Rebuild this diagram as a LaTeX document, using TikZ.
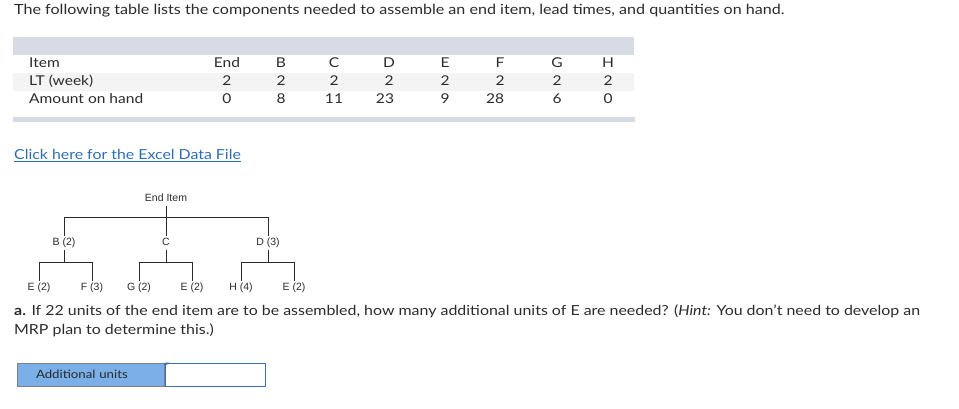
\documentclass[tikz,border=0pt]{standalone}
\usepackage{fontspec}
\setmainfont[FakeStretch=1.15]{Lato}
\newfontfamily\treefont{Liberation Sans}
\usepackage{tikz}

\definecolor{txt}{HTML}{2B2B2B}
\definecolor{bar}{HTML}{D6DBE4}
\definecolor{band}{HTML}{F4F4F4}
\definecolor{link}{HTML}{2E6DB4}
\definecolor{btnfill}{HTML}{7AAFE8}
\definecolor{btnline}{HTML}{7F7F7F}
\definecolor{boxline}{HTML}{3D6FB6}

\tikzset{
  txt/.style={anchor=base west, inner sep=0pt, text=txt, font=\fontsize{14}{18}\selectfont},
  cell/.style={anchor=base, inner sep=0pt, text=txt, font=\fontsize{13.5}{16}\selectfont},
  part/.style={anchor=base, inner xsep=0pt, inner ysep=1.5pt, text height=8pt, text depth=2.5pt, text=txt, font=\treefont\fontsize{10.5}{12}\selectfont},
  link/.style={draw=txt, line width=0.8pt}
}

\begin{document}
\begin{tikzpicture}[x=1pt,y=-1pt]
        \useasboundingbox (0,0) rectangle (959,409);

        \node[txt] (title) at (14,15) {The following table lists the components needed to assemble an end item, lead times, and quantities on hand.};

        \fill[bar] (13,37) rectangle (634,55);
        \fill[band] (13,73) rectangle (634,91);
        \fill[bar] (13,117) rectangle (635,122);

        \node[cell, anchor=base west] (item) at (29,68) {Item};
        \node[cell, anchor=base west] (lt) at (29,86) {LT (week)};
        \node[cell, anchor=base west] (onhand) at (29,104) {Amount on hand};

        \node[cell] (hEnd) at (227,68) {End};
        \node[cell] (hB) at (281,68) {B};
        \node[cell] (hC) at (334,68) {C};
        \node[cell] (hD) at (389,68) {D};
        \node[cell] (hE) at (445,68) {E};
        \node[cell] (hF) at (500,68) {F};
        \node[cell] (hG) at (557,68) {G};
        \node[cell] (hH) at (608,68) {H};

        \node[cell] (ltEnd) at (227,86) {2};
        \node[cell] (ltB) at (281,86) {2};
        \node[cell] (ltC) at (334,86) {2};
        \node[cell] (ltD) at (389,86) {2};
        \node[cell] (ltE) at (445,86) {2};
        \node[cell] (ltF) at (500,86) {2};
        \node[cell] (ltG) at (557,86) {2};
        \node[cell] (ltH) at (608,86) {2};

        \node[cell] (ohEnd) at (227,104) {0};
        \node[cell] (ohB) at (281,104) {8};
        \node[cell] (ohC) at (334,104) {11};
        \node[cell] (ohD) at (385,104) {23};
        \node[cell] (ohE) at (445,104) {9};
        \node[cell] (ohF) at (495,104) {28};
        \node[cell] (ohG) at (557,104) {6};
        \node[cell] (ohH) at (608,104) {0};

        \node[txt, text=link, font=\fontsize{13.8}{18}\selectfont] (excel) at (14,160) {\underline{Click here for the Excel Data File}};

        \node[part] (root) at (166,201.75) {End Item};
        \node[part] (b) at (64,245.75) {B (2)};
        \node[part] (c) at (166,245.75) {C};
        \node[part] (d) at (268,245.75) {D (3)};
        \node[part] (e1) at (39,290.75) {E (2)};
        \node[part] (f) at (92,290.75) {F (3)};
        \node[part] (g) at (139,290.75) {G (2)};
        \node[part] (e2) at (192,290.75) {E (2)};
        \node[part] (h) at (241,290.75) {H (4)};
        \node[part] (e3) at (294,290.75) {E (2)};

        \draw[link] (root.south) -- ++(0,11) coordinate (bus0) -| (b.north);
        \draw[link] (bus0) -| (d.north);
        \draw[link] (bus0) -- (c.north);
        \draw[link] (b.south) -- ++(0,12) coordinate (bus1) -| (e1.north);
        \draw[link] (bus1) -| (f.north);
        \draw[link] (c.south) -- ++(0,12) coordinate (bus2) -| (g.north);
        \draw[link] (bus2) -| (e2.north);
        \draw[link] (d.south) -- ++(0,12) coordinate (bus3) -| (h.north);
        \draw[link] (bus3) -| (e3.north);

        \node[txt, font=\fontsize{13.85}{18}\selectfont] (qa) at (14,315) {\textbf{a.} If 22 units of the end item are to be assembled, how many additional units of E are needed? (\textit{Hint:} You don't need to develop an};
        \node[txt, font=\fontsize{13.85}{18}\selectfont] (qb) at (14,334) {MRP plan to determine this.)};

        \node[draw=btnline, fill=btnfill, line width=1pt, text width=109pt, align=left, inner xsep=19pt, inner ysep=0pt, minimum height=23pt, text=txt, font=\fontsize{11.5}{14}\selectfont] (btn) at (90.5,374.5) {Additional units};
        \node[draw=boxline, line width=1pt, minimum width=100pt, minimum height=23pt, inner sep=0pt, anchor=west] (answer) at (btn.east) {};
        \fill[boxline] (answer.north west) -- ++(5,0) -- ++(-5,4) -- cycle;

    \end{tikzpicture}
\end{document}
